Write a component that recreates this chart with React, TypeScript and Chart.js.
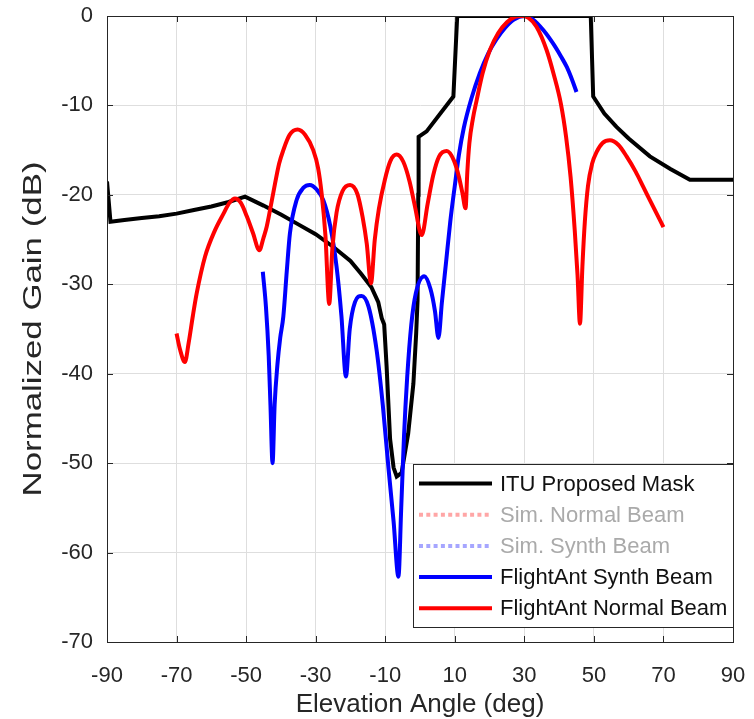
import { useEffect, useRef } from "react";
import { Chart, registerables } from "chart.js";

Chart.register(...registerables);

const FONT = '"Liberation Sans", Arial, Helvetica, sans-serif';
const AXIS_COLOR = "#262626";

// Tick labels
const xTickValues = [-90, -70, -50, -30, -10, 10, 30, 50, 70, 90];
const yTickValues = [0, -10, -20, -30, -40, -50, -60, -70];
const yTitleText = "Normalized Gain (dB)";
const xTitleText = "Elevation Angle (deg)";

// ITU Proposed Mask
const maskAngle = [
  -90, -89, -85, -80, -75, -70, -65, -60, -55, -50.3, -45, -40, -35, -30, -25, -20, -17, -14, -12, -11,
  -10.3, -10, -9.6, -8.6, -7.6, -6.7, -5.3, -3.4, -1.9, -1.1, -0.7, -0.5, -0.4, 1.9, 9.6, 10.7, 49.1, 49.8,
  53, 56.5, 60, 66.1, 72, 77.6, 90,
];
const maskGain = [
  -18.5, -23, -22.8, -22.6, -22.4, -22.1, -21.7, -21.3, -20.8, -20.2, -21.2, -22.2, -23.3, -24.4, -25.8,
  -27.4, -28.8, -30.3, -32, -33.8, -34.5, -36.5, -39.2, -47.3, -50.5, -51.5, -51.1, -46.7, -41.1, -35.5,
  -31.8, -20, -13.5, -12.9, -9.0, 0, 0, -9.0, -10.9, -12.4, -13.7, -15.7, -17.1, -18.3, -18.3,
];

// FlightAnt Synth Beam
const synthAngle = [
  -45.2, -44.3, -43.5, -43, -42.4, -41.8, -41, -40.2, -39.3, -38.3, -37.4, -35.5, -33.5, -31.7, -29.7,
  -27.8, -25.8, -24, -22.6, -21.3, -20.2, -18.7, -16.8, -14.8, -12.5, -10.7, -9.1, -7.6, -6.2, -5.4, -4.6,
  -3.7, -2.5, -1.2, 1.2, 3, 4.3, 5.3, 6.3, 7.5, 8.7, 10, 11.2, 12.6, 14.8, 17.2, 19.6, 22, 24.5, 27, 30,
  32.5, 35.5, 38.3, 40.5, 42.2, 43.7, 45,
];
const synthGain = [
  -28.6, -32.5, -38, -43.5, -50.0, -43.5, -39, -36, -33.6, -28.5, -24.3, -20.6, -19.2, -18.9, -19.4, -20.6,
  -23.5, -28.0, -33.5, -40.3, -35, -32, -31.3, -32.5, -37.3, -43.5, -50.4, -56.5, -62.7, -55, -47, -40.5,
  -34.5, -31, -29.1, -30.5, -33, -36.0, -32, -27.5, -23, -19, -15.5, -12.5, -9.2, -6.4, -4.2, -2.6, -1.3,
  -0.4, 0, -0.4, -1.6, -3.1, -4.5, -5.7, -7.1, -8.5,
];

// FlightAnt Normal Beam
const normalAngle = [
  -70, -69, -67.6, -66.5, -65.3, -64.2, -61.8, -59, -56.5, -54.8, -53.2, -51.5, -49.8, -48, -46.2, -45,
  -44.1, -42.2, -40.5, -39.3, -37.5, -35.2, -33, -30.7, -29.3, -28.3, -27.2, -26.1, -25.2, -24, -22.3,
  -20.1, -18, -16.5, -15.3, -14.1, -13, -11.8, -10.1, -8.5, -6.7, -4.8, -3, -1.5, 0.5, 2.2, 3.8, 5.5, 7.7,
  9.8, 11.2, 12.2, 13.1, 13.6, 14.2, 15.2, 16.3, 18, 20.1, 22.5, 25, 27.3, 29.2, 31.2, 33.5, 36.4, 38.5,
  40.5, 42, 43.3, 44.5, 45.3, 46, 46.7, 47.4, 48.3, 49.5, 50.8, 52.5, 54.6, 57, 59.4, 62, 64.2, 67, 70,
];
const normalGain = [
  -35.5, -37.3, -38.7, -36.5, -33.5, -31.0, -26.9, -24.0, -22.1, -20.9, -20.4, -20.9, -22.4, -24.3, -26.2,
  -24.8, -23.6, -19.8, -16.5, -15.0, -13.3, -12.7, -13.3, -15.0, -17.0, -19.8, -24.5, -32.2, -26, -22,
  -19.6, -18.9, -19.9, -22.5, -25.5, -29.9, -25, -21.5, -18.3, -16.2, -15.5, -16.3, -18.5, -21.2, -24.5,
  -21, -17.8, -15.7, -15.1, -16.2, -18, -19.8, -21.5, -17.5, -14.2, -11.5, -9.4, -6.4, -3.8, -1.9, -0.7,
  -0.1, 0, -0.2, -1.2, -3.8, -6.6, -9.8, -13.5, -18, -24, -29, -34.4, -28, -23, -19, -16.5, -15.2, -14.2,
  -13.9, -14.4, -15.7, -17.4, -19.1, -21.3, -23.6,
];

const seriesLabels = [
  "ITU Proposed Mask",
  "Sim. Normal Beam",
  "Sim. Synth Beam",
  "FlightAnt Synth Beam",
  "FlightAnt Normal Beam",
];

const toPoints = (xs: number[], ys: number[]) => xs.map((x, i) => ({ x, y: ys[i] }));

const frameAndLegend = {
  id: "frameAndLegend",
  afterDraw(chart: any) {
    const { ctx, chartArea: a, scales } = chart;
    ctx.save();
    ctx.strokeStyle = AXIS_COLOR;
    ctx.lineWidth = 1;
    ctx.setLineDash([]);
    const tl = 6;
    ctx.beginPath();
    for (const v of xTickValues) {
      const px = Math.round(scales.x.getPixelForValue(v)) + 0.5;
      ctx.moveTo(px, a.bottom);
      ctx.lineTo(px, a.bottom - tl);
      ctx.moveTo(px, a.top);
      ctx.lineTo(px, a.top + tl);
    }
    for (const v of yTickValues) {
      const py = Math.round(scales.y.getPixelForValue(v)) + 0.5;
      ctx.moveTo(a.left, py);
      ctx.lineTo(a.left + tl, py);
      ctx.moveTo(a.right, py);
      ctx.lineTo(a.right - tl, py);
    }
    ctx.stroke();
    ctx.strokeRect(Math.round(a.left) + 0.5, Math.round(a.top) + 0.5, Math.round(a.right - a.left), Math.round(a.bottom - a.top));

    // y-axis title (stretched along its direction, as in the reference)
    ctx.save();
    ctx.font = `25px ${FONT}`;
    const w = ctx.measureText(yTitleText).width;
    const targetLen = 335;
    ctx.translate(34, (a.top + a.bottom) / 2);
    ctx.rotate(-Math.PI / 2);
    ctx.scale(targetLen / w, 1);
    ctx.fillStyle = AXIS_COLOR;
    ctx.textAlign = "center";
    ctx.textBaseline = "middle";
    ctx.fillText(yTitleText, 0, 0);
    ctx.restore();

    // legend box
    const boxW = 320;
    const boxH = 163;
    const bx = Math.round(a.right - boxW);
    const by = Math.round(a.bottom - 15 - boxH);
    ctx.fillStyle = "#ffffff";
    ctx.fillRect(bx, by, boxW, boxH);
    ctx.strokeStyle = AXIS_COLOR;
    ctx.lineWidth = 1;
    ctx.strokeRect(bx + 0.5, by + 0.5, boxW, boxH);
    chart.data.datasets.forEach((ds: any, i: number) => {
      const y = by + 19.5 + i * 31.2;
      ctx.save();
      ctx.strokeStyle = ds.borderColor;
      ctx.lineWidth = ds.borderWidth;
      ctx.setLineDash(ds.borderDash || []);
      ctx.beginPath();
      ctx.moveTo(bx + 6, y);
      ctx.lineTo(bx + 79, y);
      ctx.stroke();
      ctx.restore();
      ctx.fillStyle = ds.muted ? "#aaaaaa" : "#111111";
      ctx.font = `22px ${FONT}`;
      ctx.textBaseline = "middle";
      ctx.textAlign = "left";
      ctx.fillText(ds.label, bx + 87, y + 1);
    });
    ctx.restore();
  },
};

export default function App() {
  const canvasRef = useRef<HTMLCanvasElement | null>(null);

  useEffect(() => {
    if (!canvasRef.current) return;
    const chart = new Chart(canvasRef.current, {
      type: "line",
      data: {
        datasets: [
          {
            label: seriesLabels[0],
            data: toPoints(maskAngle, maskGain),
            borderColor: "#000000",
            borderWidth: 4,
            pointRadius: 0,
            tension: 0,
            order: 3,
          },
          {
            label: seriesLabels[1],
            data: [],
            borderColor: "rgba(255,0,0,0.35)",
            borderWidth: 4,
            borderDash: [4, 3.3],
            pointRadius: 0,
            muted: true,
            order: 2,
          } as any,
          {
            label: seriesLabels[2],
            data: [],
            borderColor: "rgba(0,0,255,0.35)",
            borderWidth: 4,
            borderDash: [4, 3.3],
            pointRadius: 0,
            muted: true,
            order: 2,
          } as any,
          {
            label: seriesLabels[3],
            data: toPoints(synthAngle, synthGain),
            borderColor: "#0000ff",
            borderWidth: 4,
            pointRadius: 0,
            cubicInterpolationMode: "monotone",
            order: 1,
          },
          {
            label: seriesLabels[4],
            data: toPoints(normalAngle, normalGain),
            borderColor: "#ff0000",
            borderWidth: 4,
            pointRadius: 0,
            cubicInterpolationMode: "monotone",
            order: 0,
          },
        ],
      },
      options: {
        animation: false,
        responsive: false,
        maintainAspectRatio: false,
        layout: { padding: { top: 16, right: 21, left: 0, bottom: 0 } },
        plugins: {
          legend: { display: false },
          tooltip: { enabled: false },
        },
        scales: {
          x: {
            type: "linear",
            min: -90,
            max: 90,
            afterBuildTicks: (scale: any) => {
              scale.ticks = xTickValues.map((v) => ({ value: v }));
            },
            afterFit: (scale: any) => {
              scale.height = 77;
              scale.paddingLeft = 0;
              scale.paddingRight = 0;
            },
            grid: { color: "#dedede", lineWidth: 1, drawTicks: false },
            border: { display: true, color: AXIS_COLOR, width: 1 },
            ticks: {
              padding: 21,
              color: AXIS_COLOR,
              font: { family: FONT, size: 22 },
              maxRotation: 0,
              autoSkip: false,
              callback: (v: any) => String(v),
            },
            title: {
              display: true,
              text: xTitleText,
              color: AXIS_COLOR,
              font: { family: FONT, size: 26, lineHeight: 1 },
              padding: { top: 0, bottom: 1 },
            },
          },
          y: {
            type: "linear",
            min: -70,
            max: 0,
            afterBuildTicks: (scale: any) => {
              scale.ticks = yTickValues.map((v) => ({ value: v }));
            },
            afterFit: (scale: any) => {
              scale.width = 107;
              scale.paddingTop = 0;
              scale.paddingBottom = 0;
            },
            grid: { color: "#dedede", lineWidth: 1, drawTicks: false },
            border: { display: true, color: AXIS_COLOR, width: 1 },
            ticks: {
              padding: 14,
              color: AXIS_COLOR,
              font: { family: FONT, size: 22 },
              autoSkip: false,
              callback: (v: any) => String(v),
            },
            title: { display: false },
          },
        },
      } as any,
      plugins: [frameAndLegend],
    });
    return () => chart.destroy();
  }, []);

  return (
    <div style={{ position: "absolute", left: 0, top: 0, width: 754, height: 719, background: "#ffffff" }}>
      <canvas ref={canvasRef} width={754} height={719} style={{ width: 754, height: 719, display: "block" }} />
    </div>
  );
}
